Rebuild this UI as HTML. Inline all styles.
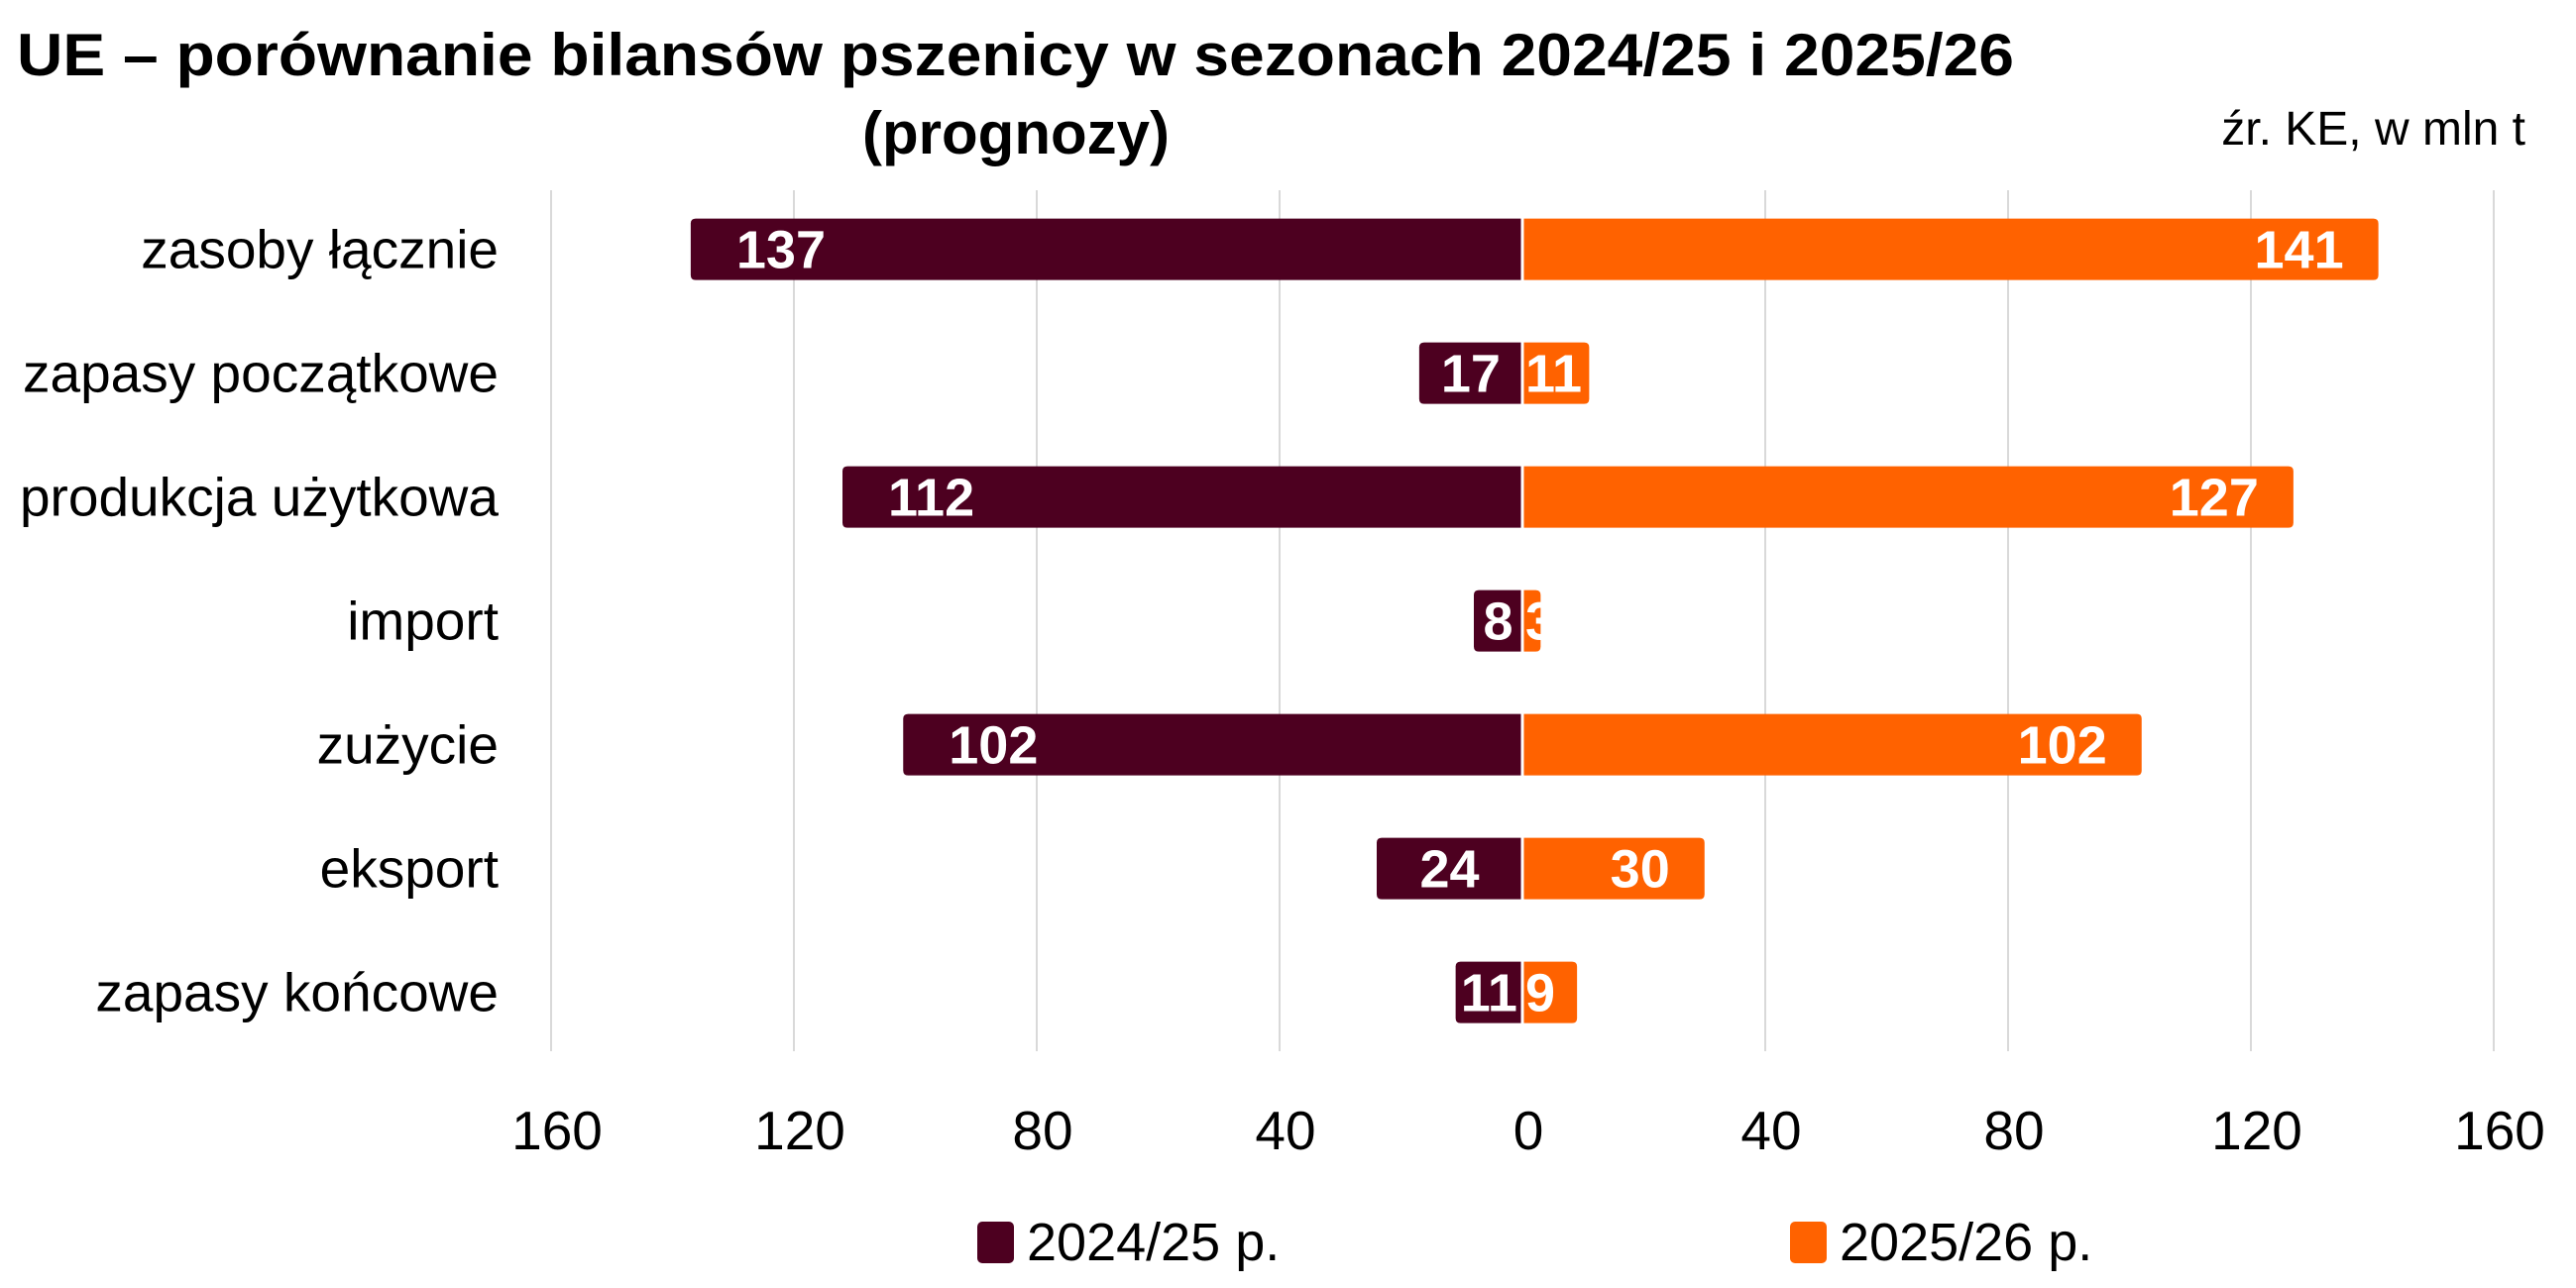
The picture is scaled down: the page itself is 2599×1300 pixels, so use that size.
<!DOCTYPE html>
<html><head><meta charset="utf-8"><style>
html,body{margin:0;padding:0;background:#fff;}
svg{display:block;font-family:"Liberation Sans Narrow","Liberation Sans",sans-serif;}
</style></head><body>
<svg id="chart" width="2599" height="1300" viewBox="0 0 2599 1300">
<text x="17" y="76" font-size="60" font-weight="bold" fill="#000" textLength="2015" lengthAdjust="spacingAndGlyphs">UE – porównanie bilansów pszenicy w sezonach 2024/25 i 2025/26</text>
<text x="1025" y="155" font-size="60" font-weight="bold" fill="#000" text-anchor="middle">(prognozy)</text>
<text x="2548" y="146" font-size="48" fill="#000" text-anchor="end">źr. KE, w mln t</text>
<g id="grid"></g><g id="bars"></g><g id="labels"></g><g id="ticks"></g>
<rect x="986" y="1233" width="37" height="42" rx="5" fill="#4d0020"/>
<text x="1036" y="1272" font-size="54" fill="#000">2024/25 p.</text>
<rect x="1806" y="1233" width="37" height="42" rx="5" fill="#ff6200"/>
<text x="1856" y="1272" font-size="54" fill="#000">2025/26 p.</text>
</svg>
<script>
const categories=["zasoby łącznie","zapasy początkowe","produkcja użytkowa","import","zużycie","eksport","zapasy końcowe"];
const series2024=[137,17,112,8,102,24,11];
const series2025=[141,11,127,3,102,30,9];
const tickValues=[-160,-120,-80,-40,0,40,80,120,160];
const tickLabels=["160","120","80","40","0","40","80","120","160"];
const NS="http://www.w3.org/2000/svg";
const x0=1536, pxPerUnit=245/40;
function xs(v){return x0+v*pxPerUnit;}
function ys(i){return 251.6+i*125;}
const barH=62;
function mk(tag,attrs,parent){const e=document.createElementNS(NS,tag);for(const k in attrs)e.setAttribute(k,attrs[k]);parent.appendChild(e);return e;}
const grid=document.getElementById('grid'),bars=document.getElementById('bars'),labels=document.getElementById('labels'),ticks=document.getElementById('ticks');
tickValues.forEach((v,i)=>{
  const l=mk('line',{x1:xs(v),x2:xs(v),y1:192,y2:1061,stroke:'#d9d9d9','stroke-width':2},grid);
  
  
  const t=mk('text',{x:xs(v)+6,y:1160,'font-size':55,'text-anchor':'middle',fill:'#000'},ticks);
  t.textContent=tickLabels[i];
  
  
});
function roundedBar(xa,xb,y,h,r,side){
  const top=y-h/2,bot=y+h/2;
  if(side<0){return `M${xb},${top} L${xa+r},${top} Q${xa},${top} ${xa},${top+r} L${xa},${bot-r} Q${xa},${bot} ${xa+r},${bot} L${xb},${bot} Z`;}
  return `M${xa},${top} L${xb-r},${top} Q${xb},${top} ${xb},${top+r} L${xb},${bot-r} Q${xb},${bot} ${xb-r},${bot} L${xa},${bot} Z`;
}
function textW(s){return s.length*28;}
categories.forEach((c,i)=>{
  const y=ys(i);
  const cl=mk('text',{x:503,y:y+19,'font-size':55,'text-anchor':'end',fill:'#000'},labels);
  cl.textContent=c;
  
  
  const v1=series2024[i], xl=xs(-v1);
  const b1=mk('path',{d:roundedBar(xl,x0,y,barH,5,-1),fill:'#4d0020'},bars);
  
  
  const s1=String(v1), w1=x0-xl;
  let t1;
  if(w1>textW(s1)+92){t1=mk('text',{x:xl+46,y:y+19,'text-anchor':'start'},labels);}
  else{t1=mk('text',{x:(xl+x0)/2,y:y+19,'text-anchor':'middle'},labels);}
  t1.setAttribute('font-size',54);t1.setAttribute('font-weight','bold');t1.setAttribute('fill','#fff');
  t1.textContent=s1;
  
  
  const v2=series2025[i], xr=xs(v2);
  const b2=mk('path',{d:roundedBar(x0,xr,y,barH,5,1),fill:'#ff6200'},bars);
  
  
  const s2=String(v2), w2=xr-x0;
  let t2;
  if(w2>textW(s2)+70){t2=mk('text',{x:xr-35,y:y+19,'text-anchor':'end'},labels);}
  else{t2=mk('text',{x:x0+3,y:y+19,'text-anchor':'start'},labels);}
  t2.setAttribute('font-size',54);t2.setAttribute('font-weight','bold');t2.setAttribute('fill','#fff');
  t2.textContent=s2;
  
  
});
const zl=mk('line',{x1:x0,x2:x0,y1:192,y2:1061,stroke:'#fff','stroke-width':3},bars);


</script>
</body></html>
